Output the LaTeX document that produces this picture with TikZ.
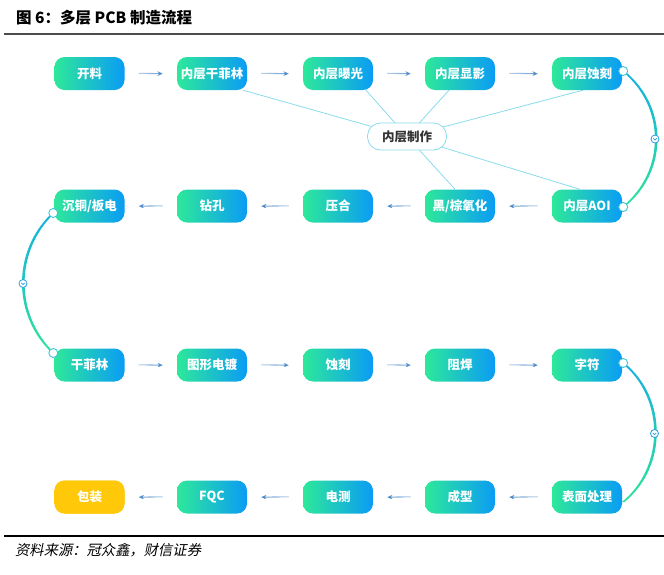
\documentclass[tikz,border=0pt]{standalone}
\usepackage{fontspec}
\setmainfont{Noto Sans CJK SC}
\newfontfamily\cjk{Noto Sans CJK SC}
\newfontfamily\cjkit[FakeSlant=0.2]{Noto Sans CJK SC}
\usetikzlibrary{fadings,backgrounds,arrows.meta,calc}
\definecolor{gL}{HTML}{2EE89A}
\definecolor{bR}{HTML}{0A9CF5}
\definecolor{yel}{HTML}{FFC90A}
\definecolor{arrC}{HTML}{3A7EC2}
\definecolor{hubC}{HTML}{8ADBEB}
\definecolor{curT}{HTML}{16B0DE}
\definecolor{curB}{HTML}{2EE39A}
\definecolor{dotC}{HTML}{3CC6D8}
\definecolor{midC}{HTML}{2A9DE0}
\tikzfading[name=fadeR, left color=transparent!85, right color=transparent!0]
\tikzfading[name=fadeL, left color=transparent!0, right color=transparent!85]
\tikzset{
  box/.style={rounded corners=10pt, minimum width=70pt, minimum height=33pt,
    left color=gL, right color=bR, text=white, inner sep=0pt,
    font=\cjk\bfseries\fontsize{12.5}{12.5}\selectfont},
  ybox/.style={box, fill=yel, left color=yel, right color=yel},
  hub/.style={rounded corners=13pt, draw=hubC, line width=0.8pt, fill=white,
    minimum width=79pt, minimum height=27pt, inner sep=0pt, text=black!80,
    font=\cjk\bfseries\fontsize{12.5}{12.5}\selectfont},
  farr/.style={draw=arrC, line width=1.1pt, -{Stealth[length=5.5pt,width=5pt]},
    shorten <=14pt, shorten >=14pt},
  rarr/.style={farr, path fading=fadeR},
  larr/.style={farr, path fading=fadeL},
  hubline/.style={draw=hubC, line width=0.8pt},
  enddot/.style={circle, draw=dotC, fill=white, line width=0.9pt, minimum size=9pt, inner sep=0pt},
  middot/.style={circle, draw=midC, fill=white, line width=0.8pt, minimum size=8pt, inner sep=0pt},
}
\newcommand\rflow[2]{\draw[rarr] ($(#1.east)+(0,-0.4)$) -- ($(#2.west)+(0,0.4)$);}
\newcommand\lflow[2]{\draw[larr] ($(#1.west)+(0,-0.4)$) -- ($(#2.east)+(0,0.4)$);}
\begin{document}
\begin{tikzpicture}[x=1pt,y=-1pt]
\useasboundingbox (0,0) rectangle (664,574);
% title
\node[anchor=west, inner sep=0pt, font=\cjk\bfseries\fontsize{15.5}{15.5}\selectfont] (title) at (16,18) {图 6：多层 PCB 制造流程};
\draw[line width=2pt, black!70] (4,34) -- (664,34);
\draw[line width=1.5pt, black] (4,536) -- (664,536);
\node[anchor=west, inner sep=0pt, font=\cjkit\fontsize{14.3}{14.3}\selectfont] (src) at (15,550) {资料来源：冠众鑫，财信证券};

% boxes
\node[box] (r1c1) at (89.5,73.5) {开料};
\node[box] (r1c2) at (212,73.5) {内层干菲林};
\node[box] (r1c3) at (338,73.5) {内层曝光};
\node[box] (r1c4) at (460,73.5) {内层显影};
\node[box] (r1c5) at (587,73.5) {内层蚀刻};

\node[box] (r2c1) at (89.5,206) {沉铜/板电};
\node[box] (r2c2) at (212,206) {钻孔};
\node[box] (r2c3) at (338,206) {压合};
\node[box] (r2c4) at (460,206) {黑/棕氧化};
\node[box] (r2c5) at (587,206) {内层AOI};

\node[box] (r3c1) at (89.5,365) {干菲林};
\node[box] (r3c2) at (212,365) {图形电镀};
\node[box] (r3c3) at (338,365) {蚀刻};
\node[box] (r3c4) at (460,365) {阻焊};
\node[box] (r3c5) at (587,365) {字符};

\node[ybox] (r4c1) at (89.5,497) {包装};
\node[box] (r4c2) at (212,497) {FQC};
\node[box] (r4c3) at (338,497) {电测};
\node[box] (r4c4) at (460,497) {成型};
\node[box] (r4c5) at (587,497) {表面处理};

% hub
\node[hub] (hub) at (407,136.5) {内层制作};
\begin{scope}[on background layer]
\draw[hubline] (hub.center) -- ($(r1c2.south east)+(-4,0)$);
\draw[hubline] (hub.center) -- ($(r1c3.south)+(28,0)$);
\draw[hubline] (hub.center) -- ($(r1c4.south)+(-11,0)$);
\draw[hubline] (hub.center) -- ($(r1c5.south)+(-4,0)$);
\draw[hubline] (hub.center) -- ($(r2c4.north)+(-5,0)$);
\draw[hubline] (hub.center) -- ($(r2c5.north)+(-7,0)$);
\end{scope}

% arrows
\rflow{r1c1}{r1c2}
\rflow{r1c2}{r1c3}
\rflow{r1c3}{r1c4}
\rflow{r1c4}{r1c5}
\lflow{r2c5}{r2c4}
\lflow{r2c4}{r2c3}
\lflow{r2c3}{r2c2}
\lflow{r2c2}{r2c1}
\rflow{r3c1}{r3c2}
\rflow{r3c2}{r3c3}
\rflow{r3c3}{r3c4}
\rflow{r3c4}{r3c5}
\lflow{r4c5}{r4c4}
\lflow{r4c4}{r4c3}
\lflow{r4c3}{r4c2}
\lflow{r4c2}{r4c1}

% curved connectors
\coordinate (a1) at ($(r1c5.east)+(1,-2.5)$);
\coordinate (a2) at ($(r2c5.east)+(1,1)$);
\coordinate (b1) at ($(r2c1.west)+(-1,7)$);
\coordinate (b2) at ($(r3c1.west)+(-1,-12)$);
\coordinate (c1) at ($(r3c5.east)+(1,-2)$);
\coordinate (c2) at ($(r4c5.east)+(1,5)$);
\shade[top color=curT, bottom color=curB]
  ($(a1)+(1.3,0)$) .. controls +(44,35.5) and +(44,-35.5) .. ($(a2)+(1.3,0)$)
  -- ($(a2)+(-1.3,0)$) .. controls +(44,-35.5) and +(44,35.5) .. ($(a1)+(-1.3,0)$) -- cycle;
\shade[top color=curT, bottom color=curB]
  ($(b1)+(1.3,0)$) .. controls +(-40,38) and +(-40,-38) .. ($(b2)+(1.3,0)$)
  -- ($(b2)+(-1.3,0)$) .. controls +(-40,-38) and +(-40,38) .. ($(b1)+(-1.3,0)$) -- cycle;
\shade[top color=curT, bottom color=curB]
  ($(c1)+(1.3,0)$) .. controls +(43,35) and +(43,-35) .. ($(c2)+(1.3,0)$)
  -- ($(c2)+(-1.3,0)$) .. controls +(43,-35) and +(43,35) .. ($(c1)+(-1.3,0)$) -- cycle;
\node[enddot] (d1) at (a1) {};
\node[enddot] (d2) at (a2) {};
\node[enddot] (d3) at (b1) {};
\node[enddot] (d4) at (b2) {};
\node[enddot] (d5) at (c1) {};
\foreach \n/\p in {m1/{(655,139)}, m2/{(23,283.5)}, m3/{(654.5,433.5)}}{
  \node[middot] (\n) at \p {};
  \draw[midC, line width=0.7pt] ($(\n.center)+(-1.8,-0.7)$) -- ($(\n.center)+(0,1.1)$) -- ($(\n.center)+(1.8,-0.7)$);
}
\end{tikzpicture}
\end{document}
